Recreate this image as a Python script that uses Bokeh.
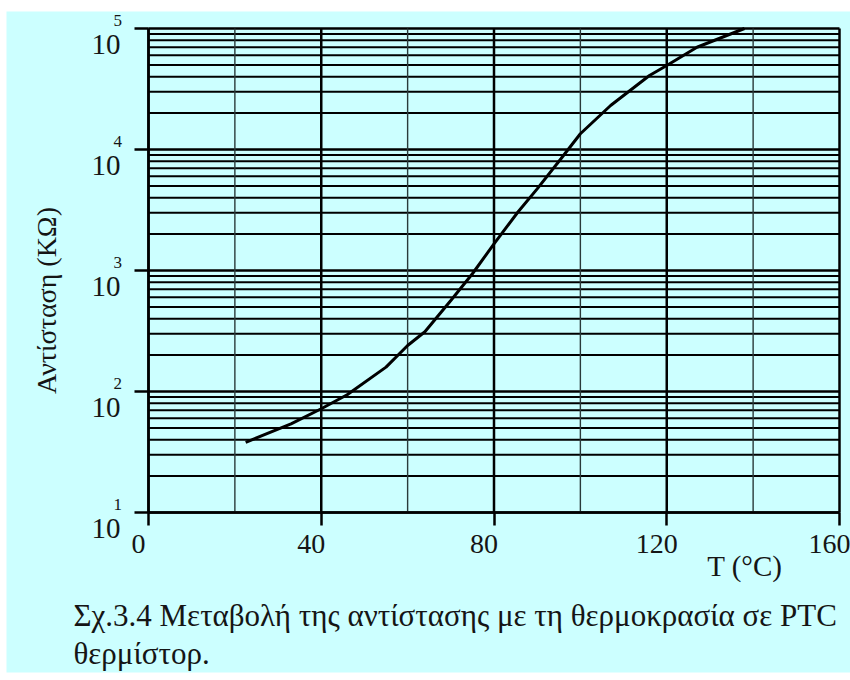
from bokeh.plotting import figure
from bokeh.models import ColumnDataSource, LabelSet, Label, FixedTicker
from bokeh.embed import file_html
from bokeh.resources import INLINE

# ---- data ----
temperature_c = [22.5, 33, 40, 46, 55, 60, 64, 70, 75, 80, 85.5, 90, 95.5, 100,
                 107, 116, 120, 127, 138]
resistance_kohm = [38, 54, 72, 94, 159, 240, 312, 565, 940, 1660, 3030, 4730,
                   8380, 13500, 23100, 40900, 49400, 70000, 100000]

x_ticks = [0, 40, 80, 120, 160]
x_tick_labels = ["0", "40", "80", "120", "160"]
x_grid_minor = [20, 60, 100, 140]
y_decades = [10, 100, 1000, 10000, 100000]
y_exponents = ["1", "2", "3", "4", "5"]
y_mantissas = [2, 3, 4, 5, 6, 7, 8, 9]

x_title = "T  (°C)"
y_title = "Αντίσταση (ΚΩ)"
caption_lines = ["Σχ.3.4 Μεταβολή της αντίστασης με τη θερμοκρασία σε PTC",
                 "θερμίστορ."]

# ---- layout (pixels) ----
W, H = 850, 680
FRAME_L, FRAME_T, FRAME_R, FRAME_B = 6, 11, 0, 8      # white page border
FW, FH = W - FRAME_L - FRAME_R, H - FRAME_T - FRAME_B
LEFT, RIGHT, TOP, BOTTOM = 142, 11, 17, 160           # room around chart area
PX_PER_DECADE = (FH - TOP - BOTTOM) / 4.0
PX_PER_X = (FW - LEFT - RIGHT) / 160.0

x_lo = x_ticks[0] - LEFT / PX_PER_X
x_hi = x_ticks[-1] + RIGHT / PX_PER_X
y_lo = y_decades[0] * 10 ** (-BOTTOM / PX_PER_DECADE)
y_hi = y_decades[-1] * 10 ** (TOP / PX_PER_DECADE)

BG = "#ccffff"
INK = "#151515"
FONT = "Liberation Serif"

p = figure(width=W, height=H, x_range=(x_lo, x_hi), y_range=(y_lo, y_hi),
           y_axis_type="log", output_backend="svg", toolbar_location=None,
           min_border_left=FRAME_L, min_border_top=FRAME_T,
           min_border_right=FRAME_R, min_border_bottom=FRAME_B,
           background_fill_color=BG, border_fill_color="white",
           outline_line_color=None)
p.xgrid.visible = False
p.ygrid.visible = False

# grid lines of the chart area
minor_y = [m * d for d in y_decades[:-1] for m in y_mantissas]
p.segment(x0=x_ticks[0], x1=x_ticks[-1], y0=minor_y, y1=minor_y,
          line_color="black", line_width=2)
p.segment(x0=x_ticks[0], x1=x_ticks[-1], y0=y_decades, y1=y_decades,
          line_color="black", line_width=2.5)
p.segment(x0=x_grid_minor, x1=x_grid_minor, y0=y_decades[0], y1=y_decades[-1],
          line_color="#2a3a3a", line_width=1.4)
p.segment(x0=x_ticks, x1=x_ticks, y0=y_decades[0], y1=y_decades[-1],
          line_color="black", line_width=2.5)

# axes drawn at the chart edges
p.xaxis.fixed_location = y_decades[0]
p.yaxis.fixed_location = x_ticks[0]
p.xaxis.bounds = (x_ticks[0], x_ticks[-1])
p.yaxis.bounds = (y_decades[0], y_decades[-1])
p.xaxis.ticker = FixedTicker(ticks=x_ticks)
p.yaxis.ticker = FixedTicker(ticks=y_decades)
for ax in (p.xaxis[0], p.yaxis[0]):
    ax.axis_line_color = "black"
    ax.axis_line_width = 2.5
    ax.major_tick_line_color = "black"
    ax.major_tick_line_width = 2.5
    ax.major_tick_in = 0
    ax.minor_tick_line_color = None
    ax.major_label_text_color = None
    ax.major_label_text_font_size = "10px"
    ax.major_label_standoff = 0
p.xaxis.major_tick_out = 13
p.yaxis.major_tick_out = 14

# curve
p.line(temperature_c, resistance_kohm, line_color="black", line_width=3)

# x tick labels
xsrc = ColumnDataSource(dict(x=x_ticks, y=[y_decades[0]] * len(x_ticks),
                             t=x_tick_labels))
p.add_layout(LabelSet(x="x", y="y", text="t", source=xsrc, x_offset=-10,
                      y_offset=-31, text_align="center", text_baseline="middle",
                      text_font=FONT, text_font_size="28px", text_color=INK))

# y tick labels: "10" with superscript exponent
ysrc = ColumnDataSource(dict(x=[x_ticks[0]] * len(y_decades), y=y_decades,
                             base=["10"] * len(y_decades), e=y_exponents))
p.add_layout(LabelSet(x="x", y="y", text="base", source=ysrc, x_offset=-28,
                      y_offset=-16, text_align="right", text_baseline="middle",
                      text_font=FONT, text_font_size="29px", text_color=INK))
p.add_layout(LabelSet(x="x", y="y", text="e", source=ysrc, x_offset=-35,
                      y_offset=8, text_align="left", text_baseline="middle",
                      text_font=FONT, text_font_size="17px", text_color=INK))

# axis titles
p.add_layout(Label(x=x_ticks[-1], y=y_decades[0], x_offset=-91, y_offset=-53,
                   text=x_title, text_align="center", text_baseline="middle",
                   text_font=FONT, text_font_size="29px", text_color=INK))
p.add_layout(Label(x=x_ticks[0], y=565, x_offset=-102, text=y_title,
                   angle=1.5707963, text_align="center", text_baseline="middle",
                   text_font=FONT, text_font_size="28px", text_color=INK))

# caption
for i, line in enumerate(caption_lines):
    p.add_layout(Label(x=x_ticks[0], y=y_decades[0], x_offset=-75,
                       y_offset=-103 - 38 * i, text=line, text_align="left",
                       text_baseline="alphabetic", text_font=FONT,
                       text_font_size="31px", text_color=INK))

open("out.html", "w").write(file_html(p, INLINE))
